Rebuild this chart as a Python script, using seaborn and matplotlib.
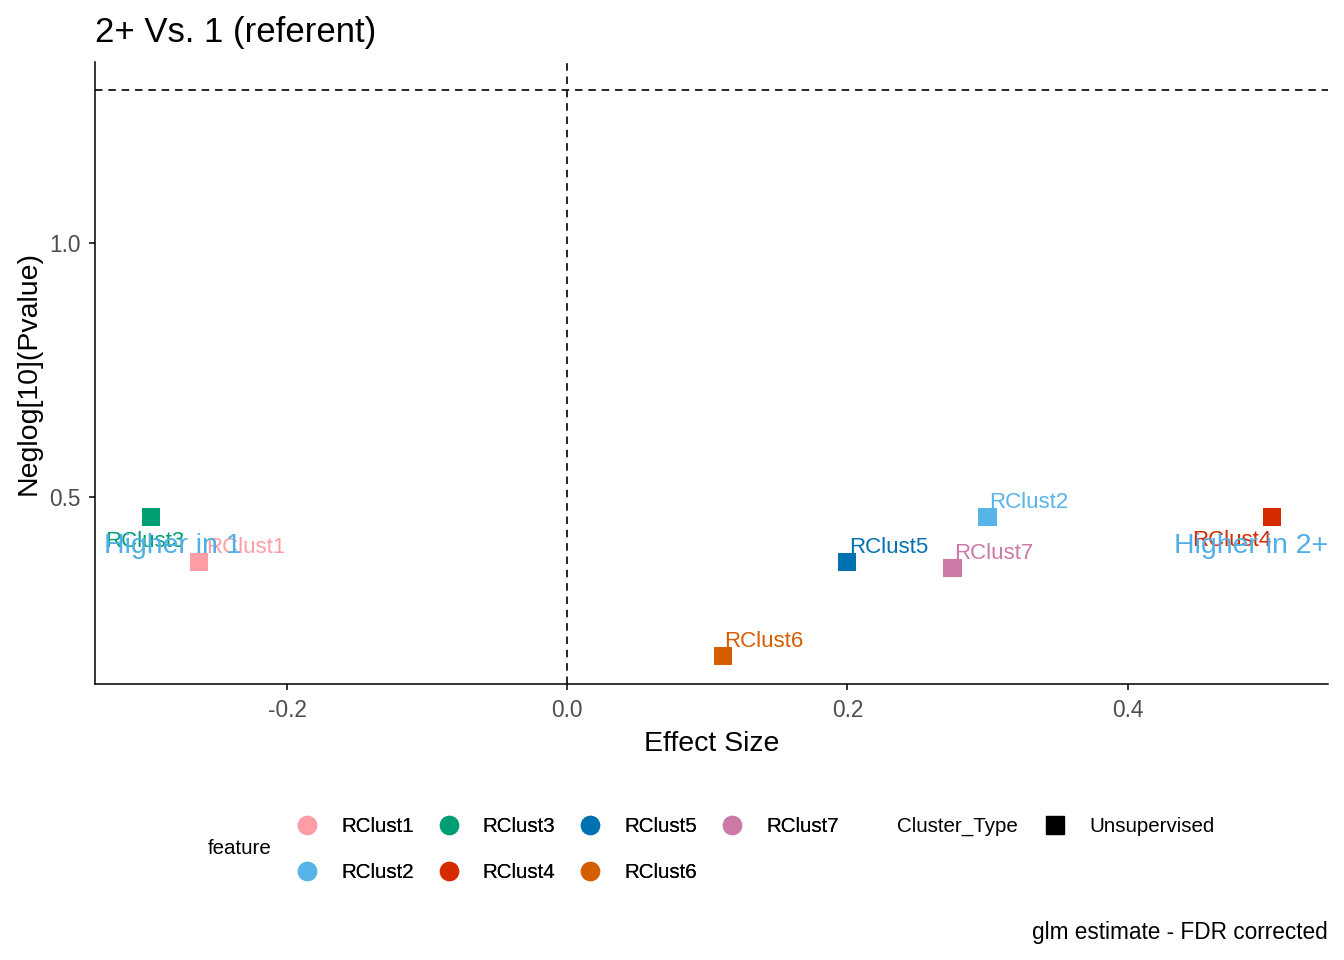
import matplotlib
matplotlib.use("Agg")
import matplotlib.pyplot as plt
import matplotlib.transforms as mtransforms
from matplotlib.lines import Line2D
import seaborn as sns
import pandas as pd

# ---- data ----
features = ["RClust1", "RClust2", "RClust3", "RClust4", "RClust5", "RClust6", "RClust7"]
effect_size = [-0.263, 0.300, -0.297, 0.503, 0.200, 0.111, 0.275]
neglog_p = [0.372, 0.461, 0.461, 0.461, 0.372, 0.188, 0.360]
colors = ["#FF9DA7", "#56B4E9", "#009E73", "#D62A00", "#0072B2", "#D55E00", "#CC79A7"]
cluster_type = ["Unsupervised"] * 7
x_ticks = [-0.2, 0.0, 0.2, 0.4]
y_ticks = [0.5, 1.0]
sig_line = 1.30103  # -log10(0.05)

# label offsets in points (annotation placement)
label_offsets = {
    "RClust1": (5, 7), "RClust2": (1, 6.5), "RClust3": (-33, -21.5),
    "RClust4": (-57.5, -21), "RClust5": (1, 6.5), "RClust6": (1, 6.5),
    "RClust7": (1, 6.5),
}

df = pd.DataFrame({"feature": features, "effect": effect_size,
                   "neglogp": neglog_p, "Cluster_Type": cluster_type})
palette = dict(zip(features, colors))

sns.set_style("ticks")
plt.rcParams["font.family"] = ["Liberation Sans", "DejaVu Sans"]
plt.rcParams["text.color"] = "black"
plt.rcParams["axes.labelcolor"] = "black"

fig = plt.figure(figsize=(13.44, 9.6), dpi=100)
ax = fig.add_axes([95 / 1344, 1 - 684 / 960, (1328 - 95) / 1344, (684 - 62) / 960])

ax.axvline(0, color="black", lw=1.2, ls=(0, (4.5, 3.5)), zorder=1)
ax.axhline(sig_line, color="black", lw=1.2, ls=(0, (4.5, 3.5)), zorder=1)

sns.scatterplot(data=df, x="effect", y="neglogp", hue="feature", palette=palette,
                marker="s", s=170, linewidth=0, legend=False, ax=ax, zorder=3)

for f, xv, yv in zip(features, effect_size, neglog_p):
    dx, dy = label_offsets[f]
    ax.annotate(f, (xv, yv), xytext=(dx, dy), textcoords="offset points",
                ha="left", va="baseline", color=palette[f], fontsize=16, zorder=4)

trans = mtransforms.blended_transform_factory(ax.transAxes, ax.transData)
ax.text(0.0073, 0.391, "Higher in 1", transform=trans, ha="left", va="baseline",
        color="#4FAFE6", fontsize=20.5, zorder=5)
ax.text(1.0, 0.391, "Higher in 2+", transform=trans, ha="right", va="baseline",
        color="#4FAFE6", fontsize=20.5, zorder=5)

xmin, xmax = min(effect_size), max(effect_size)
xr = xmax - xmin
ax.set_xlim(xmin - 0.05 * xr, xmax + 0.05 * xr)
ymin, ymax = min(neglog_p), sig_line
yr = ymax - ymin
ax.set_ylim(ymin - 0.05 * yr, ymax + 0.05 * yr)

ax.set_xticks(x_ticks)
ax.set_xticklabels([f"{v:.1f}" for v in x_ticks])
ax.set_yticks(y_ticks)
ax.set_yticklabels([f"{v:.1f}" for v in y_ticks])
ax.tick_params(axis="x", labelsize=16.3, labelcolor="#4D4D4D", color="black",
               length=4.5, width=1.1, pad=6.5)
ax.tick_params(axis="y", labelsize=16.3, labelcolor="#4D4D4D", color="black",
               length=4.5, width=1.1, pad=5.5)
for s in ["top", "right"]:
    ax.spines[s].set_visible(False)
for s in ["left", "bottom"]:
    ax.spines[s].set_linewidth(1.1)
    ax.spines[s].set_color("black")

ax.set_xlabel("Effect Size", fontsize=20.5, labelpad=6)
ax.set_ylabel("Neglog[10](Pvalue)", fontsize=20.5, labelpad=6)

fig.text(95 / 1344, 1 - 42 / 960, "2+ Vs. 1 (referent)", fontsize=25,
         ha="left", va="baseline")
fig.text(1328 / 1344, 1 - 933 / 960, "glm estimate - FDR corrected", fontsize=16.3,
         ha="right", va="center")

# legends
handles = [Line2D([], [], marker="o", ls="", color=palette[f], markersize=13) for f in features]
leg1 = fig.legend(handles, features, ncol=4, frameon=False, fontsize=14.8,
                  loc="upper left", bbox_to_anchor=(297 / 1344, 1 - 817 / 960),
                  handlelength=1.0, handletextpad=1.15, columnspacing=1.2,
                  labelspacing=1.3, borderpad=0, borderaxespad=0)
fig.text(208 / 1344, 1 - 849 / 960, "feature", fontsize=14.8, ha="left", va="center")
fig.text(897 / 1344, 1 - 826 / 960, "Cluster_Type", fontsize=14.8, ha="left", va="center")
h2 = [Line2D([], [], marker="s", ls="", color="black", markersize=13)]
leg2 = fig.legend(h2, ["Unsupervised"], frameon=False, fontsize=14.8,
                  loc="upper left", bbox_to_anchor=(1045 / 1344, 1 - 817 / 960),
                  handlelength=1.0, handletextpad=1.15, borderpad=0, borderaxespad=0)
fig.add_artist(leg1)

fig.savefig("out.png", dpi=100)
